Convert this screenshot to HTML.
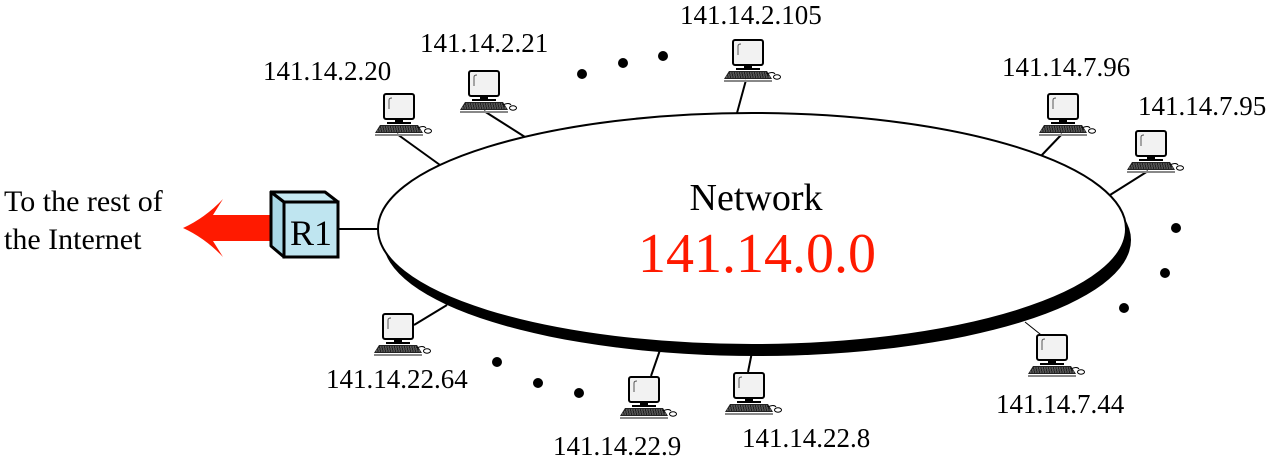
<!DOCTYPE html>
<html><head><meta charset="utf-8"><style>
body{margin:0;background:#fff}
svg{display:block}
text{font-family:"Liberation Serif",serif}
</style></head><body>
<svg width="1270" height="464" viewBox="0 0 1270 464" xmlns="http://www.w3.org/2000/svg">
<defs>
<g id="pc">
<rect x="0" y="0" width="30" height="25" rx="2" fill="#f2f2f2" stroke="#000" stroke-width="2"/>
<path d="M5 15 V6 Q5 4 8 4" fill="none" stroke="#555" stroke-width="1"/>
<rect x="11" y="25" width="8" height="3" fill="#000"/>
<rect x="3" y="28" width="24" height="2" fill="#000"/>
<path d="M-4 31 H34 L39 39 H-9 Z" fill="#222"/>
<path d="M-3 33 H33 M-5 35 H35 M-7 37 H37" stroke="#aaa" stroke-width="0.7" stroke-dasharray="1.5 1"/>
<rect x="-9" y="40" width="48" height="2" fill="#888"/>
<path d="M34 34 Q40 31 42 34" fill="none" stroke="#000" stroke-width="1"/>
<ellipse cx="44" cy="37" rx="3.5" ry="2.2" fill="#fff" stroke="#000" stroke-width="1"/>
</g>
</defs>
<g stroke="#000" stroke-width="2">
<line x1="397" y1="134" x2="440" y2="165"/>
<line x1="484" y1="111" x2="525" y2="137"/>
<line x1="746" y1="80" x2="737" y2="113"/>
<line x1="1062" y1="134" x2="1040" y2="157"/>
<line x1="1148" y1="171" x2="1110" y2="195"/>
<line x1="752" y1="352" x2="748" y2="372"/>
<line x1="660" y1="350" x2="651" y2="376"/>
<line x1="414" y1="325" x2="447" y2="305"/>
<line x1="338" y1="229" x2="380" y2="229"/>
</g>
<line x1="1025" y1="322" x2="1045" y2="338" stroke="#000" stroke-width="1"/>
<ellipse cx="757" cy="240" rx="374" ry="116" fill="#000"/>
<ellipse cx="752" cy="229" rx="374" ry="116" fill="#fff" stroke="#000" stroke-width="2"/>
<text x="756" y="210" font-size="38" text-anchor="middle">Network</text>
<text x="757" y="272" font-size="56" fill="#ff1a00" text-anchor="middle">141.14.0.0</text>
<use href="#pc" x="384" y="94"/>
<use href="#pc" x="469" y="71"/>
<use href="#pc" x="733" y="40"/>
<use href="#pc" x="1048" y="94"/>
<use href="#pc" x="1136" y="131"/>
<use href="#pc" x="1037" y="335"/>
<use href="#pc" x="734" y="373"/>
<use href="#pc" x="629" y="377"/>
<use href="#pc" x="383" y="314"/>
<g fill="#000">
<circle cx="582" cy="74" r="5"/><circle cx="623" cy="63" r="5"/><circle cx="663" cy="56" r="5"/>
<circle cx="1176" cy="228" r="5"/><circle cx="1165" cy="273" r="5"/><circle cx="1124" cy="308" r="5"/>
<circle cx="497" cy="362" r="5"/><circle cx="538" cy="383" r="5"/><circle cx="579" cy="393" r="5"/>
</g>
<g font-size="27">
<text x="263" y="80">141.14.2.20</text>
<text x="420" y="52">141.14.2.21</text>
<text x="680" y="24">141.14.2.105</text>
<text x="1002" y="76">141.14.7.96</text>
<text x="1138" y="115">141.14.7.95</text>
<text x="996" y="413">141.14.7.44</text>
<text x="742" y="447">141.14.22.8</text>
<text x="553" y="455">141.14.22.9</text>
<text x="326" y="388">141.14.22.64</text>
</g>
<text x="4" y="211" font-size="30">To the rest of</text>
<text x="4" y="249" font-size="30">the Internet</text>
<path d="M183 228 Q205 218 223 199 L213 215 L272 215 L272 241 L213 241 L223 257 Q205 238 183 228 Z" fill="#ff1a00"/>
<path d="M271 204 L271 246 L284 257 L284 202 L271 192 Z" fill="#a9d8e6" stroke="#000" stroke-width="3" stroke-linejoin="round"/>
<path d="M271 192 L325 192 L338 202 L284 202 Z" fill="#c7eaf3" stroke="#000" stroke-width="3" stroke-linejoin="round"/>
<rect x="284" y="202" width="54" height="55" fill="#bfe5f0" stroke="#000" stroke-width="3"/>
<text x="311" y="245" font-size="36" text-anchor="middle">R1</text>
</svg>
</body></html>
